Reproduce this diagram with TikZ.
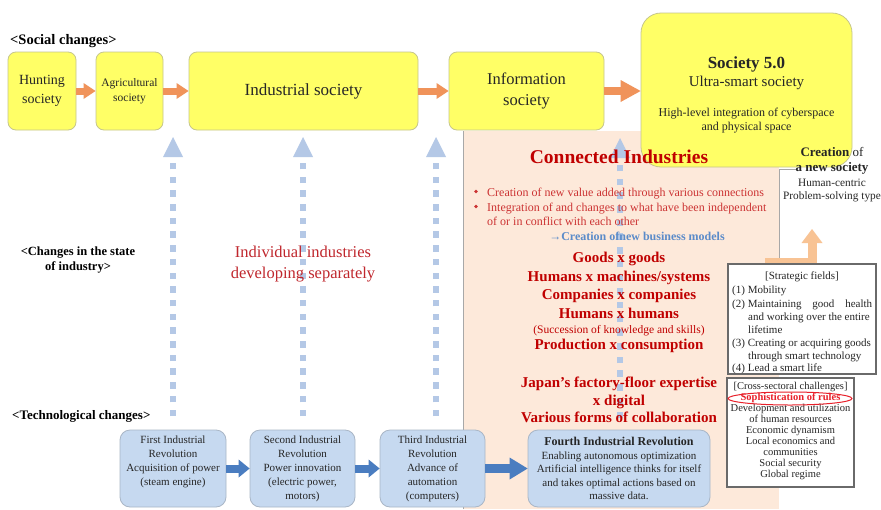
\documentclass[tikz,border=0pt]{standalone}
\usepackage{fontspec}
\setmainfont{Liberation Serif}
\usetikzlibrary{arrows.meta,shapes.geometric}

\definecolor{socYellow}{HTML}{FFFF66}
\definecolor{socEdge}{HTML}{C6C68C}
\definecolor{flowOrange}{HTML}{F0935A}
\definecolor{paleOrange}{HTML}{F8C394}
\definecolor{panelPeach}{HTML}{FDE9DA}
\definecolor{panelLine}{HTML}{A8A8A8}
\definecolor{techFill}{HTML}{C6D9F0}
\definecolor{techEdge}{HTML}{A9B6C6}
\definecolor{techArrow}{HTML}{4A7DC0}
\definecolor{dotBlue}{HTML}{B4C8E6}
\definecolor{deepRed}{HTML}{C00000}
\definecolor{softRed}{HTML}{C0272D}
\definecolor{bulletRed}{HTML}{CC3333}
\definecolor{linkBlue}{HTML}{5B8BC9}
\definecolor{frameGray}{HTML}{6A6A6A}
\definecolor{ruleRed}{HTML}{E8202A}
\definecolor{inkGray}{HTML}{262626}

\newcommand{\fsz}[2]{\fontsize{#1}{#2}\selectfont}

\tikzset{
  txt/.style={inner sep=0pt, text=inkGray},
  socbox/.style={draw=socEdge, line width=0.8pt, fill=socYellow, rounded corners=8pt,
    inner sep=0pt, align=center, text=inkGray, minimum height=78pt},
  flowarrow/.style={flowOrange, line width=7pt,
    -{Triangle[length=12pt,width=16pt,line width=0pt]}},
  bigflow/.style={flowOrange, line width=8pt,
    -{Triangle[length=20pt,width=22pt,line width=0pt]}},
  dotarrow/.style={dotBlue, line width=6.5pt, dash pattern=on 6.5pt off 7.2pt,
    -{Triangle[length=20pt,width=20pt,line width=0pt]}},
  heading/.style={inner sep=0pt, text=black, font=\bfseries\fsz{13}{15}},
  goods/.style={inner sep=0pt, text=deepRed, anchor=base, font=\bfseries\fsz{15}{18}},
  bullettxt/.style={inner sep=0pt, text=bulletRed, anchor=base west, font=\fsz{12}{15}},
  bulletdot/.style={circle, fill=bulletRed, inner sep=0pt, minimum size=3.6pt},
  techbox/.style={draw=techEdge, line width=0.8pt, fill=techFill, rounded corners=10pt,
    inner sep=0pt, minimum height=77pt},
  techtxt/.style={inner sep=0pt, text=inkGray, align=center, anchor=north, font=\fsz{11}{13.8}},
  techflow/.style={techArrow, line width=8pt,
    -{Triangle[length=11pt,width=18pt,line width=0pt]}},
  framebox/.style={draw=frameGray, line width=1.8pt, fill=white, inner sep=0pt},
  fieldtxt/.style={inner sep=0pt, text=inkGray, anchor=base west, font=\fsz{11}{13}},
  society/.style={inner sep=0pt, text=inkGray, anchor=base},
}

\begin{document}
\begin{tikzpicture}[x=1pt,y=-1pt]
\useasboundingbox (0,0) rectangle (881,509);
\fill[white] (0,0) rectangle (881,509);

% shaded panel behind the Connected Industries column
\fill[panelPeach] (463,131) rectangle (779,509);
\draw[panelLine, line width=0.8pt] (463,509) -- (463,131);
% frame of the "new society" corner
\draw[panelLine, line width=0.8pt] (779,266) -- (779,169) -- (796,169);

% dotted upward arrows from technology to society
\coordinate (d1a) at (173,416); \coordinate (d1b) at (173,137);
\coordinate (d2a) at (303,416); \coordinate (d2b) at (303,137);
\coordinate (d3a) at (436,416); \coordinate (d3b) at (436,137);
\coordinate (d4a) at (620,418); \coordinate (d4b) at (620,138);
\draw[dotarrow] (d1a) -- (d1b);
\draw[dotarrow] (d2a) -- (d2b);
\draw[dotarrow] (d3a) -- (d3b);
\draw[dotarrow] (d4a) -- (d4b);

% social stages
\node[socbox, minimum width=68pt, font=\fsz{14}{19}] (hunt) at (42,91) {Hunting\\society};
\node[socbox, minimum width=67pt, font=\fsz{11.5}{15}] (agri) at (129.5,91) {Agricultural\\society};
\node[socbox, minimum width=229pt, font=\fsz{17}{20}] (indus) at (303.5,91) {Industrial society};
\node[socbox, minimum width=155pt, font=\fsz{16.5}{21}] (info) at (526.5,91) {Information\\society};
\node[socbox, rounded corners=20pt, minimum width=211pt, minimum height=154pt] (s50) at (746.5,90) {};

\draw[flowarrow] (hunt) -- (agri);
\draw[flowarrow] (agri) -- (indus);
\draw[flowarrow] (indus) -- (info);
\draw[bigflow] (info.east) -- (info.east -| s50.west);

\node[society, font=\bfseries\fsz{17}{20}] (s50title) at (746.5,68) {Society 5.0};
\node[society, font=\fsz{15}{18}] (s50sub) at (746.5,86) {Ultra-smart society};
\node[society, font=\fsz{12}{14}] (s50descA) at (746.5,116) {High-level integration of cyberspace};
\node[society, font=\fsz{12}{14}] (s50descB) at (746.5,130) {and physical space};

% row headings
\node[heading, font=\bfseries\fsz{14.5}{17}, anchor=base west] (lblSoc) at (10,44) {<Social changes>};
\node[heading, font=\bfseries\fsz{12.5}{15}, align=center] (lblInd) at (78,260) {<Changes in the state\\of industry>};
\node[heading, font=\bfseries\fsz{13}{15}, anchor=base west] (lblTech) at (12,419) {<Technological changes>};

\node[txt, text=softRed, font=\fsz{16.5}{21}, align=center] (indiv) at (303,264)
  {Individual industries\\developing separately};

% Connected Industries column
\node[txt, text=deepRed, font=\bfseries\fsz{19.5}{22}, anchor=base] (ci) at (619,163) {Connected Industries};
\node[bulletdot] (bd1) at (476,191.5) {};
\node[bullettxt] (bt1) at (487,196) {Creation of new value added through various connections};
\node[bulletdot] (bd2) at (476,206.5) {};
\node[bullettxt] (bt2) at (487,211) {Integration of and changes to what have been independent};
\node[bullettxt] (bt3) at (487,225) {of or in conflict with each other};
\node[txt, text=linkBlue, font=\bfseries\fsz{12}{14}, anchor=base] (bm) at (637,240) {→Creation ofnew business models};

\node[goods] (g1) at (619,262) {Goods x goods};
\node[goods] (g2) at (619,281) {Humans x machines/systems};
\node[goods] (g3) at (619,299) {Companies x companies};
\node[goods] (g4) at (619,318) {Humans x humans};
\node[goods, font=\fsz{11.5}{13}] (g5) at (619,333) {(Succession of knowledge and skills)};
\node[goods] (g6) at (619,349) {Production x consumption};
\node[goods] (g7) at (619,387) {Japan’s factory-floor expertise};
\node[goods] (g8) at (619,405) {x digital};
\node[goods] (g9) at (619,422) {Various forms of collaboration};

% new society note
\node[society, font=\fsz{13}{15}] (cr1) at (832,156) {\textbf{Creation} of};
\node[society, font=\bfseries\fsz{13}{15}] (cr2) at (832,171) {a new society};
\node[society, font=\fsz{11.3}{14}] (cr3) at (832,186) {Human-centric};
\node[society, font=\fsz{11.3}{14}] (cr4) at (832,199) {Problem-solving type};

% bent arrow rising from the strategic fields
\coordinate (upA) at (765,262);
\coordinate (upB) at (812,229);
\draw[paleOrange, line width=9pt, -{Triangle[length=14pt,width=21pt,line width=0pt]}] (upA) -| (upB);

% strategic fields
\node[framebox, minimum width=148pt, minimum height=110pt] (sf) at (802,319) {};
\node[txt, font=\fsz{11}{13}, anchor=base] (sf0) at (802,279) {[Strategic fields]};
\node[fieldtxt] (sf1) at (732,293) {(1) Mobility};
\node[fieldtxt] (sf2) at (732,307) {\makebox[140pt]{(2) Maintaining\hfill good\hfill health}};
\node[fieldtxt] (sf3) at (748,320) {and working over the entire};
\node[fieldtxt] (sf4) at (748,333) {lifetime};
\node[fieldtxt] (sf5) at (732,346) {(3) Creating or acquiring goods};
\node[fieldtxt] (sf6) at (748,359) {through smart technology};
\node[fieldtxt] (sf7) at (732,371) {(4) Lead a smart life};

% cross-sectoral challenges
\node[framebox, minimum width=127pt, minimum height=109pt] (cx) at (790.5,432.5) {};
\node[txt, font=\fsz{10.5}{11}, align=center] (cxtxt) at (790.5,431)
  {[Cross-sectoral challenges]\\\textcolor{ruleRed}{\bfseries Sophistication of rules}\\Development and utilization\\of human resources\\Economic dynamism\\Local economics and\\communities\\Social security\\Global regime};
\node[draw=ruleRed, line width=1pt, ellipse, minimum width=124pt, minimum height=13pt, inner sep=0pt] (ring) at (790,398.5) {};

% technological revolutions
\node[techbox, minimum width=106pt] (t1) at (173,468.5) {};
\node[techbox, minimum width=105pt] (t2) at (302.5,468.5) {};
\node[techbox, minimum width=105pt] (t3) at (432.5,468.5) {};
\node[techbox, minimum width=182pt] (t4) at (619,468.5) {};

\node[techtxt] (t1txt) at (173,436) {First Industrial\\Revolution\\Acquisition of power\\(steam engine)};
\node[techtxt] (t2txt) at (302.5,436) {Second Industrial\\Revolution\\Power innovation\\(electric power,\\motors)};
\node[techtxt] (t3txt) at (432.5,436) {Third Industrial\\Revolution\\Advance of\\automation\\(computers)};
\node[techtxt, font=\fsz{11}{13.6}] (t4txt) at (619,437) {{\bfseries\fsz{12}{14}Fourth Industrial Revolution}\\Enabling autonomous optimization\\Artificial intelligence thinks for itself\\and takes optimal actions based on\\massive data.};

\draw[techflow] (t1) -- (t2);
\draw[techflow] (t2) -- (t3);
\draw[techflow, line width=9pt, -{Triangle[length=18pt,width=22pt,line width=0pt]}] (t3) -- (t4);
\end{tikzpicture}
\end{document}
